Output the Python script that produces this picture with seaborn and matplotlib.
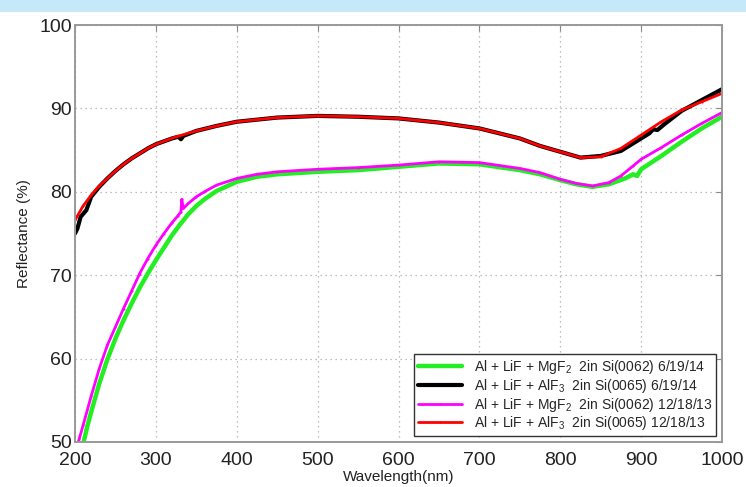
import matplotlib
matplotlib.use("Agg")
import matplotlib.pyplot as plt
from matplotlib.patches import Rectangle
import pandas as pd
import seaborn as sns

# ========================== Data ===============================
# Al + LiF + MgF2, 2in Si(0062), 6/19/14
wl_green = [205, 210, 215, 220, 230, 240, 250, 260, 270, 280, 290, 300, 310, 320,
            330, 340, 350, 360, 375, 400, 425, 450, 500, 550, 600, 650, 700, 750,
            775, 800, 820, 840, 860, 880, 890, 895, 900, 925, 950, 975, 1000]
r_green = [48.0, 49.7, 51.8, 53.6, 57.0, 59.9, 62.4, 64.6, 66.6, 68.5, 70.2, 71.8,
           73.3, 74.8, 76.1, 77.3, 78.3, 79.1, 80.1, 81.2, 81.8, 82.1, 82.4, 82.6,
           83.0, 83.4, 83.3, 82.6, 82.1, 81.4, 80.9, 80.6, 80.9, 81.6, 82.1, 81.9,
           82.7, 84.3, 86.0, 87.6, 89.0]

# Al + LiF + AlF3, 2in Si(0065), 6/19/14
wl_black = [200, 203, 207, 214, 220, 230, 240, 250, 260, 270, 280, 290, 300, 320,
            328, 331, 334, 350, 375, 400, 450, 500, 550, 600, 650, 700, 750, 775,
            800, 825, 850, 875, 900, 910, 915, 920, 930, 950, 975, 1000]
r_black = [75.0, 75.6, 77.0, 77.8, 79.4, 80.6, 81.6, 82.5, 83.3, 84.0, 84.6, 85.2,
           85.7, 86.4, 86.6, 86.3, 86.7, 87.3, 87.9, 88.4, 88.9, 89.1, 89.0, 88.8,
           88.3, 87.6, 86.4, 85.5, 84.8, 84.1, 84.3, 84.9, 86.4, 87.0, 87.5, 87.4,
           88.2, 89.7, 91.0, 92.3]

# Al + LiF + MgF2, 2in Si(0062), 12/18/13
wl_magenta = [200, 205, 210, 220, 230, 240, 250, 260, 270, 280, 290, 300, 310, 320,
              327, 331, 332, 334, 340, 350, 360, 375, 400, 425, 450, 500, 550, 600,
              650, 700, 750, 775, 800, 820, 840, 860, 875, 890, 900, 925, 950, 975, 1000]
r_magenta = [48.5, 50.3, 52.0, 55.5, 58.8, 61.6, 63.8, 66.0, 68.1, 70.2, 72.0, 73.6,
             75.0, 76.3, 77.1, 77.6, 79.1, 78.0, 78.6, 79.4, 80.0, 80.8, 81.6, 82.1,
             82.4, 82.7, 82.9, 83.2, 83.6, 83.5, 82.8, 82.3, 81.5, 81.0, 80.7, 81.1,
             81.9, 83.1, 83.9, 85.3, 86.8, 88.2, 89.5]

# Al + LiF + AlF3, 2in Si(0065), 12/18/13
wl_red = [200, 210, 220, 230, 240, 250, 260, 270, 280, 290, 300, 325, 350, 375, 400,
          450, 500, 550, 600, 650, 700, 750, 775, 800, 825, 850, 875, 900, 925, 950,
          975, 1000]
r_red = [76.6, 78.3, 79.6, 80.7, 81.6, 82.5, 83.3, 84.0, 84.6, 85.2, 85.7, 86.6,
         87.3, 87.9, 88.4, 88.9, 89.1, 89.0, 88.8, 88.3, 87.6, 86.4, 85.5, 84.8,
         84.1, 84.2, 85.2, 86.8, 88.4, 89.8, 90.8, 91.8]

labels = [
    r"Al + LiF + MgF$_2$  2in Si(0062) 6/19/14",
    r"Al + LiF + AlF$_3$  2in Si(0065) 6/19/14",
    r"Al + LiF + MgF$_2$  2in Si(0062) 12/18/13",
    r"Al + LiF + AlF$_3$  2in Si(0065) 12/18/13",
]

# ========================== Style ===============================
sns.set_style("white")
plt.rcParams["font.family"] = ["Liberation Sans", "DejaVu Sans"]
plt.rcParams["mathtext.fontset"] = "custom"
plt.rcParams["mathtext.rm"] = "Liberation Sans"

fig = plt.figure(figsize=(7.46, 4.87), dpi=100)
fig.patches.append(Rectangle((0, 1 - 12 / 487), 1, 12 / 487, transform=fig.transFigure,
                             facecolor="#c6e8f8", edgecolor="none", zorder=0))
ax = fig.add_axes([75 / 746, 1 - 442 / 487, 647 / 746, 417 / 487])

# ========================== Lines ===============================
series = [
    (wl_green, r_green, "#22ee22", 3.2, None),
    (wl_black, r_black, "black", 3.0, None),
    (wl_magenta, r_magenta, "#ff00ff", 2.0, "."),
    (wl_red, r_red, "#ff0000", 2.0, "."),
]
for (wl, r, color, lw, mk), lab in zip(series, labels):
    df = pd.DataFrame({"Wavelength": wl, "Reflectance": r})
    sns.lineplot(data=df, x="Wavelength", y="Reflectance", ax=ax, color=color,
                 linewidth=lw, marker=mk, markersize=3, markeredgewidth=0,
                 label=lab)

# ========================== Axes ===============================
ax.set_xlim(200, 1000)
ax.set_ylim(50, 100)
ax.set_xticks(range(200, 1001, 100))
ax.set_yticks(range(50, 101, 10))
ax.tick_params(axis="both", labelsize=14, labelcolor="#222222", direction="in",
               length=4, color="#888888", top=True, right=True)
ax.tick_params(axis="x", pad=7)
ax.tick_params(axis="y", pad=2)
ax.set_xlabel("Wavelength(nm)", fontsize=11, labelpad=1, color="#222222")
ax.set_ylabel("Reflectance (%)", fontsize=11, labelpad=6, color="#222222")
ax.grid(True, linestyle=(0, (1, 3)), color="#aaaaaa", linewidth=0.9)
for s in ax.spines.values():
    s.set_color("#999999")
    s.set_linewidth(1.4)

leg = ax.legend(loc="lower right", fontsize=10, frameon=True, fancybox=False,
                edgecolor="#333333", framealpha=1, borderaxespad=0.4,
                labelspacing=0.05, handlelength=3.2, borderpad=0.3,
                handletextpad=0.8)
leg.get_frame().set_linewidth(1.0)

fig.savefig("out.png", dpi=100)
